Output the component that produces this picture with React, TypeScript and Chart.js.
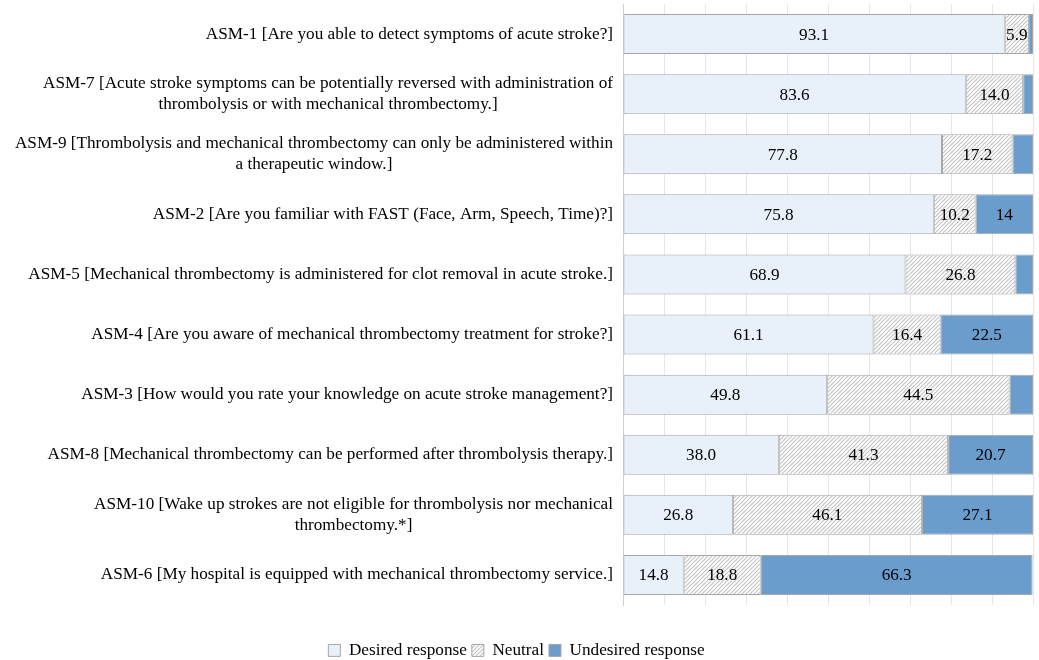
import React, { useEffect, useRef } from "react";
import { Chart, registerables } from "chart.js";

Chart.register(...registerables);

const categories: string[][] = [
  ["ASM-1 [Are you able to detect symptoms of acute stroke?]"],
  ["ASM-7 [Acute stroke symptoms can be potentially reversed with administration of", "thrombolysis or with mechanical thrombectomy.]"],
  ["ASM-9 [Thrombolysis and mechanical thrombectomy can only be administered within", "a therapeutic window.]"],
  ["ASM-2 [Are you familiar with FAST (Face, Arm, Speech, Time)?]"],
  ["ASM-5 [Mechanical thrombectomy is administered for clot removal in acute stroke.]"],
  ["ASM-4 [Are you aware of mechanical thrombectomy treatment for stroke?]"],
  ["ASM-3 [How would you rate your knowledge on acute stroke management?]"],
  ["ASM-8 [Mechanical thrombectomy can be performed after thrombolysis therapy.]"],
  ["ASM-10 [Wake up strokes are not eligible for thrombolysis nor mechanical", "thrombectomy.*]"],
  ["ASM-6 [My hospital is equipped with mechanical thrombectomy service.]"],
];

const desired = [93.1, 83.6, 77.8, 75.8, 68.9, 61.1, 49.8, 38.0, 26.8, 14.8];
const neutral = [5.9, 14.0, 17.2, 10.2, 26.8, 16.4, 44.5, 41.3, 46.1, 18.8];
const undesired = [1.0, 2.4, 5.0, 14, 4.3, 22.5, 5.7, 20.7, 27.1, 66.3];

const desiredLabels = ["93.1", "83.6", "77.8", "75.8", "68.9", "61.1", "49.8", "38.0", "26.8", "14.8"];
const neutralLabels = ["5.9", "14.0", "17.2", "10.2", "26.8", "16.4", "44.5", "41.3", "46.1", "18.8"];
const undesiredLabels = ["", "", "", "14", "", "22.5", "", "20.7", "27.1", "66.3"];

const seriesNames = ["Desired response", "Neutral", "Undesired response"];

const FONT = "'Liberation Serif', 'Times New Roman', serif";
const FS = 17.2;

function makeHatch(): CanvasPattern | string {
  const c = document.createElement("canvas");
  const s = 4;
  c.width = s;
  c.height = s;
  const g = c.getContext("2d");
  if (!g) return "#eeeeee";
  g.fillStyle = "#ffffff";
  g.fillRect(0, 0, s, s);
  g.strokeStyle = "#c4c4c4";
  g.lineWidth = 1.1;
  g.beginPath();
  g.moveTo(0, s);
  g.lineTo(s, 0);
  g.moveTo(-1, 1);
  g.lineTo(1, -1);
  g.moveTo(s - 1, s + 1);
  g.lineTo(s + 1, s - 1);
  g.stroke();
  const p = g.createPattern(c, "repeat");
  return p || "#eeeeee";
}

export default function App() {
  const ref = useRef<HTMLCanvasElement>(null);

  useEffect(() => {
    if (!ref.current) return;
    const hatch = makeHatch();
    const allLabels = [desiredLabels, neutralLabels, undesiredLabels];

    const yLabelPlugin = {
      id: "yLabels",
      afterDraw(chart: any) {
        const ctx = chart.ctx;
        const y = chart.scales.y;
        ctx.save();
        ctx.font = `${FS}px ${FONT}`;
        ctx.fillStyle = "#000000";
        ctx.textAlign = "center";
        ctx.textBaseline = "middle";
        const lh = 21;
        const rightX = chart.chartArea.left - 10;
        categories.forEach((lines, i) => {
          const cy = y.getPixelForValue(i);
          const maxW = Math.max(...lines.map((l) => ctx.measureText(l).width));
          const cx = rightX - maxW / 2;
          const startY = cy - ((lines.length - 1) * lh) / 2;
          lines.forEach((l, j) => ctx.fillText(l, cx, startY + j * lh));
        });
        ctx.restore();
      },
    };

    const valuePlugin = {
      id: "values",
      afterDatasetsDraw(chart: any) {
        const ctx = chart.ctx;
        ctx.save();
        ctx.font = `${FS}px ${FONT}`;
        ctx.fillStyle = "#000000";
        ctx.textAlign = "center";
        ctx.textBaseline = "middle";
        chart.data.datasets.forEach((ds: any, di: number) => {
          const meta = chart.getDatasetMeta(di);
          meta.data.forEach((el: any, i: number) => {
            const t = allLabels[di][i];
            if (!t) return;
            ctx.fillText(t, (el.x + el.base) / 2, el.y + 1);
          });
        });
        ctx.restore();
      },
    };

    const chart = new Chart(ref.current, {
      type: "bar",
      data: {
        labels: categories.map((c) => c.join(" ")),
        datasets: [
          {
            label: seriesNames[0],
            data: desired,
            backgroundColor: "#e8f0f9",
            borderColor: "#a6a6a6",
            borderWidth: 1,
            borderSkipped: false,
          },
          {
            label: seriesNames[1],
            data: neutral,
            backgroundColor: hatch as any,
            borderColor: "#a6a6a6",
            borderWidth: 1,
            borderSkipped: false,
          },
          {
            label: seriesNames[2],
            data: undesired,
            backgroundColor: "#6a9dcc",
            borderColor: "#a6a6a6",
            borderWidth: 1,
            borderSkipped: false,
          },
        ],
      },
      options: {
        indexAxis: "y",
        responsive: false,
        maintainAspectRatio: false,
        animation: false,
        layout: { padding: { top: 4, left: 0, right: 6, bottom: 0 } },
        datasets: {
          bar: { categoryPercentage: 1, barPercentage: 0.666 },
        },
        scales: {
          x: {
            stacked: true,
            min: 0,
            max: 100,
            ticks: { display: false, stepSize: 10 },
            grid: { color: "#e6e6e6", drawTicks: false },
            border: { display: false },
            afterFit: (s: any) => {
              s.height = 31.8;
            },
          },
          y: {
            stacked: true,
            ticks: { display: false },
            grid: { display: false, drawTicks: false },
            border: { display: true, color: "#d0d0d0" },
            afterFit: (s: any) => {
              s.width = 623;
            },
          },
        },
        plugins: {
          tooltip: { enabled: false },
          legend: {
            position: "bottom",
            labels: {
              boxWidth: 12,
              boxHeight: 12,
              padding: 5,
              color: "#000000",
              font: { family: FONT, size: FS },
            },
          },
        },
      },
      plugins: [yLabelPlugin, valuePlugin],
    });
    return () => chart.destroy();
  }, []);

  return (
    <div style={{ position: "fixed", left: 0, top: 0, width: 1039, height: 669, background: "#ffffff" }}>
      <canvas ref={ref} width={1039} height={669} style={{ display: "block" }} />
    </div>
  );
}
